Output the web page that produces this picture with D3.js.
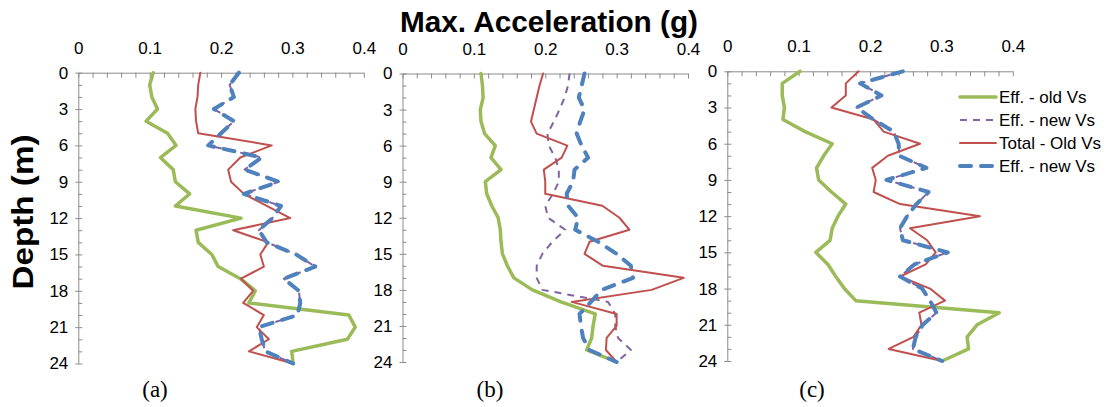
<!DOCTYPE html>
<html lang="en">

<head>
  <meta charset="UTF-8">
  <title>Max. Acceleration profiles</title>
  <script src="https://d3js.org/d3.v7.min.js"></script>
  <style>
    body {
      margin: 0;
      background: #fff;
    }

    text {
      font-family: "Liberation Sans", Arial, sans-serif;
      fill: #000;
    }

    .axis path,
    .axis line {
      stroke: #8c8c8c;
    }
  </style>
</head>

<body>
  <div id="chart"></div>
  <script>

    // depth of each reading (m)
    const depths = [0, 1, 2, 3, 4, 5, 6, 7, 8, 9, 10, 11, 12, 13, 14, 15, 16, 17, 18, 19, 20, 21, 22, 23, 24];
    const accelTicks = [0, 0.1, 0.2, 0.3, 0.4];
    const depthTicks = [0, 3, 6, 9, 12, 15, 18, 21, 24];
    const seriesNames = ["Eff. - old Vs", "Eff. - new Vs", "Total - Old Vs", "Eff. - new Vs"];
    const panelLabels = ["(a)", "(b)", "(c)"];

    // panel (a)
    const aEffOld = [0.105, 0.100, 0.103, 0.111, 0.095, 0.125, 0.137, 0.115, 0.133, 0.136, 0.156, 0.136, 0.228, 0.165, 0.168, 0.187, 0.196, 0.227, 0.248, 0.239, 0.379, 0.388, 0.377, 0.299, 0.301];
    const aEffNewThin = [0.225, 0.212, 0.218, 0.190, 0.218, 0.200, 0.182, 0.257, 0.233, 0.281, 0.232, 0.284, 0.272, 0.253, 0.264, 0.305, 0.332, 0.288, 0.309, 0.311, 0.307, 0.253, 0.257, 0.262, 0.301];
    const aTotalOld = [0.171, 0.168, 0.167, 0.164, 0.165, 0.168, 0.271, 0.227, 0.210, 0.214, 0.232, 0.264, 0.297, 0.217, 0.266, 0.255, 0.260, 0.228, 0.245, 0.231, 0.260, 0.250, 0.267, 0.239, 0.301];
    const aEffNew = [0.225, 0.212, 0.218, 0.190, 0.218, 0.200, 0.182, 0.257, 0.233, 0.281, 0.232, 0.284, 0.272, 0.253, 0.264, 0.305, 0.332, 0.288, 0.309, 0.311, 0.307, 0.253, 0.257, 0.262, 0.301];

    // panel (b)
    const bEffOld = [0.110, 0.112, 0.113, 0.109, 0.110, 0.115, 0.130, 0.124, 0.138, 0.116, 0.118, 0.125, 0.134, 0.137, 0.138, 0.140, 0.147, 0.156, 0.182, 0.222, 0.270, 0.267, 0.265, 0.258, 0.300];
    const bEffNewThin = [0.234, 0.232, 0.227, 0.220, 0.212, 0.203, 0.205, 0.214, 0.219, 0.219, 0.211, 0.200, 0.204, 0.228, 0.210, 0.196, 0.188, 0.188, 0.196, 0.288, 0.298, 0.298, 0.302, 0.320, 0.300];
    const bTotalOld = [0.197, 0.192, 0.188, 0.184, 0.180, 0.188, 0.231, 0.223, 0.198, 0.200, 0.200, 0.280, 0.304, 0.318, 0.262, 0.255, 0.281, 0.394, 0.349, 0.237, 0.300, 0.300, 0.286, 0.285, 0.300];
    const bEffNew = [0.255, 0.251, 0.247, 0.255, 0.249, 0.244, 0.251, 0.260, 0.241, 0.239, 0.230, 0.232, 0.246, 0.242, 0.274, 0.300, 0.320, 0.323, 0.279, 0.264, 0.248, 0.250, 0.253, 0.262, 0.300];

    // panel (c)
    const cEffOld = [0.102, 0.077, 0.077, 0.080, 0.078, 0.109, 0.147, 0.135, 0.125, 0.128, 0.146, 0.166, 0.155, 0.147, 0.144, 0.124, 0.141, 0.152, 0.164, 0.180, 0.381, 0.350, 0.336, 0.338, 0.301];
    const cEffNewThin = [0.246, 0.186, 0.216, 0.181, 0.205, 0.233, 0.240, 0.241, 0.279, 0.223, 0.282, 0.265, 0.252, 0.242, 0.246, 0.309, 0.262, 0.242, 0.273, 0.284, 0.293, 0.274, 0.264, 0.260, 0.301];
    const cTotalOld = [0.184, 0.166, 0.166, 0.146, 0.205, 0.219, 0.270, 0.225, 0.203, 0.208, 0.205, 0.242, 0.354, 0.256, 0.280, 0.292, 0.278, 0.242, 0.284, 0.305, 0.269, 0.272, 0.261, 0.226, 0.301];
    const cEffNew = [0.246, 0.186, 0.216, 0.181, 0.205, 0.233, 0.240, 0.241, 0.279, 0.223, 0.282, 0.265, 0.252, 0.242, 0.246, 0.309, 0.262, 0.242, 0.273, 0.284, 0.293, 0.274, 0.264, 0.260, 0.301];

    const panelSeries = [
      [aEffOld, aEffNewThin, aTotalOld, aEffNew],
      [bEffOld, bEffNewThin, bTotalOld, bEffNew],
      [cEffOld, cEffNewThin, cTotalOld, cEffNew]
    ];

    // look of each series, same order as seriesNames
    const styles = [
      { color: "#9bbb59", width: 3.5, dash: null, cap: "round" },
      { color: "#8064a2", width: 2, dash: "7,6", cap: "butt" },
      { color: "#c0504d", width: 2, dash: null, cap: "round" },
      { color: "#4f81bd", width: 4, dash: "11,10", cap: "round" }
    ];

    const width = 1107;
    const height = 407;
    const panelLeft = [78.3, 402.5, 727.3];
    const panelTop = [72.7, 73.5, 71.3];
    const panelBottom = [363.5, 362, 361];
    const panelWidth = 285.5;
    const labelX = [155, 490, 812];

    const svg = d3.select("#chart")
      .append("svg")
      .attr("width", width)
      .attr("height", height);

    panelSeries.forEach((series, p) => {
      const x = d3.scaleLinear().domain([0, 0.4]).range([panelLeft[p], panelLeft[p] + panelWidth]);
      const y = d3.scaleLinear().domain([0, 24]).range([panelTop[p], panelBottom[p]]);
      const g = svg.append("g");

      // minor ticks on the top axis, pointing down
      g.append("g")
        .attr("class", "axis")
        .attr("transform", `translate(0,${panelTop[p]})`)
        .call(d3.axisTop(x).tickValues(d3.range(0, 0.4001, 0.02)).tickSize(-5).tickSizeOuter(0).tickFormat(""));

      g.append("g")
        .attr("class", "axis")
        .attr("transform", `translate(0,${panelTop[p]})`)
        .call(d3.axisTop(x).tickValues(accelTicks).tickSize(0).tickPadding(19).tickFormat(d3.format("")))
        .call(a => a.select(".domain").remove())
        .selectAll("text")
        .style("font-size", "17px");

      // depth axis: every metre inside, labelled every 3 m
      g.append("g")
        .attr("class", "axis")
        .attr("transform", `translate(${panelLeft[p]},0)`)
        .call(d3.axisLeft(y).tickValues(depths).tickSize(-4).tickSizeOuter(0).tickFormat(""));

      g.append("g")
        .attr("class", "axis")
        .attr("transform", `translate(${panelLeft[p]},0)`)
        .call(d3.axisLeft(y).tickValues(depthTicks).tickSize(3).tickPadding(7))
        .call(a => a.select(".domain").remove())
        .selectAll("text")
        .style("font-size", "17px");

      const line = d3.line()
        .x(d => x(d[0]))
        .y(d => y(d[1]));

      series.forEach((vals, i) => {
        const st = styles[i];
        g.append("path")
          .datum(vals.map((v, k) => [v, depths[k]]))
          .attr("d", line)
          .attr("fill", "none")
          .attr("stroke", st.color)
          .attr("stroke-width", st.width)
          .attr("stroke-linejoin", "round")
          .attr("stroke-linecap", st.cap)
          .attr("stroke-dasharray", st.dash);
      });

      svg.append("text")
        .attr("x", labelX[p])
        .attr("y", 397)
        .attr("text-anchor", "middle")
        .style("font-family", "'Liberation Serif', 'Times New Roman', serif")
        .style("font-size", "23px")
        .text(panelLabels[p]);
    });

    // titles
    svg.append("text")
      .attr("x", 549)
      .attr("y", 32)
      .attr("text-anchor", "middle")
      .attr("textLength", 298)
      .attr("lengthAdjust", "spacingAndGlyphs")
      .style("font-size", "30px")
      .style("font-weight", "bold")
      .text("Max. Acceleration (g)");

    svg.append("text")
      .attr("transform", "translate(33,212) rotate(-90)")
      .attr("text-anchor", "middle")
      .attr("textLength", 155)
      .attr("lengthAdjust", "spacingAndGlyphs")
      .style("font-size", "29px")
      .style("font-weight", "bold")
      .text("Depth (m)");

    // legend
    const legend = svg.append("g").attr("transform", "translate(960,97)");
    seriesNames.forEach((name, i) => {
      const st = styles[i];
      const row = legend.append("g").attr("transform", `translate(0,${i * 23})`);
      row.append("line")
        .attr("x1", 0).attr("x2", 36)
        .attr("stroke", st.color)
        .attr("stroke-width", st.width)
        .attr("stroke-linecap", st.cap)
        .attr("stroke-dasharray", st.dash);
      row.append("text")
        .attr("x", 39)
        .attr("dy", "0.35em")
        .style("font-size", "17px")
        .text(name);
    });
  </script>
</body>

</html>
